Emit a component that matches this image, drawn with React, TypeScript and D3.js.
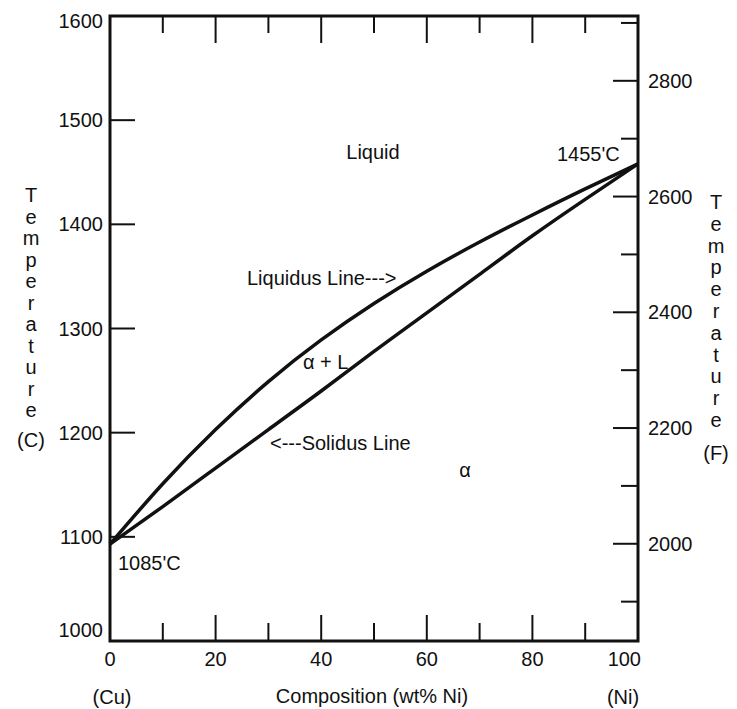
import * as d3 from "d3";

// wt% Ni along the bottom
const composition = [0, 10, 20, 30, 40, 50, 60, 70, 80, 90, 100];
// temperatures (C)
const liquidusC = [1093, 1151, 1203, 1249, 1289, 1324, 1355, 1383, 1409, 1434, 1458];
const solidusC = [1093, 1129, 1166, 1203, 1240, 1278, 1315, 1352, 1389, 1424, 1458];

const xTicks = [0, 10, 20, 30, 40, 50, 60, 70, 80, 90, 100];
const xLabels = [0, 20, 40, 60, 80, 100];
const cTicks = [1000, 1100, 1200, 1300, 1400, 1500, 1600];
const fTicks = [1900, 2000, 2100, 2200, 2300, 2400, 2500, 2600, 2700, 2800, 2900];
const fLabels = [2000, 2200, 2400, 2600, 2800];

const width = 737;
const height = 709;
const left = 110, right = 638, top = 16, bottom = 641;
const font = "'Liberation Sans', Arial, sans-serif";
const ink = "#111";

const toF = (c: number) => c * 9 / 5 + 32;

function VerticalWord({x, y0, step, word, unit, unitY}: {
    x: number, y0: number, step: number, word: string, unit: string, unitY: number
}) {
    return <g fontFamily={font} fontSize={20} fill={ink} textAnchor="middle">
        {word.split("").map((ch, i) =>
            <text key={i} x={x} y={y0 + i * step}>{ch}</text>)}
        <text x={x} y={unitY}>{unit}</text>
    </g>
}

export default function App() {
    const x = d3.scaleLinear([0, 100], [left, right]);
    const y = d3.scaleLinear([1000, 1600], [bottom, top]);
    const yF = d3.scaleLinear([toF(1000), toF(1600)], [bottom, top]);

    const line = d3.line<number>()
        .x((_, i) => x(composition[i]))
        .y(d => y(d))
        .curve(d3.curveNatural);

    return <svg width={width} height={height} style={{position: "absolute", left: 0, top: 0, background: "#fff"}}>
        {/* x ticks, bottom pointing up and top pointing down */}
        {xTicks.map(t => {
            const len = t % 20 === 0 ? 26 : 18;
            if (t === 0 || t === 100) return null;
            return <g key={t} stroke={ink} strokeWidth={2}>
                <line x1={x(t)} x2={x(t)} y1={bottom} y2={bottom - len}/>
                <line x1={x(t)} x2={x(t)} y1={top} y2={top + (t % 20 === 0 ? 27 : 17)}/>
            </g>
        })}
        {/* left C ticks */}
        {cTicks.map(t => t === 1000 || t === 1600 ? null :
            <line key={t} x1={left} x2={left + 25} y1={y(t)} y2={y(t)} stroke={ink} strokeWidth={2}/>)}
        {/* right F ticks */}
        {fTicks.map(t => {
            const len = fLabels.includes(t) ? 25 : 17;
            return <line key={t} x1={right} x2={right - len} y1={yF(t)} y2={yF(t)} stroke={ink} strokeWidth={2}/>
        })}

        <rect x={left} y={top} width={right - left} height={bottom - top} fill="none" stroke={ink} strokeWidth={3}/>

        <path d={line(liquidusC) ?? ""} fill="none" stroke={ink} strokeWidth={3.5}/>
        <path d={line(solidusC) ?? ""} fill="none" stroke={ink} strokeWidth={3.5}/>

        <g fontFamily={font} fontSize={20} fill={ink}>
            {cTicks.map(t =>
                <text key={t} x={left - 7} y={y(t) + (t === 1000 ? -11 : t === 1600 ? 5 : 0)}
                      textAnchor="end" dominantBaseline="central">{t}</text>)}
            {fLabels.map(t =>
                <text key={t} x={right + 10} y={yF(t)} dominantBaseline="central">{t}</text>)}
            {xLabels.map(t =>
                <text key={t} x={t === 100 ? x(t) + 3 : x(t)} y={659}
                      textAnchor={t === 100 ? "end" : "middle"} dominantBaseline="central">{t}</text>)}

            <text x={112} y={697} textAnchor="middle" dominantBaseline="central">(Cu)</text>
            <text x={372} y={696} textAnchor="middle" dominantBaseline="central">Composition (wt% Ni)</text>
            <text x={623} y={697} textAnchor="middle" dominantBaseline="central">(Ni)</text>

            <text x={373} y={152} textAnchor="middle" dominantBaseline="central">Liquid</text>
            <text x={557} y={154} dominantBaseline="central">1455'C</text>
            <text x={247} y={278} dominantBaseline="central">Liquidus Line---&gt;</text>
            <text x={303} y={362} dominantBaseline="central">α + L</text>
            <text x={270} y={443} dominantBaseline="central">&lt;---Solidus Line</text>
            <text x={465} y={470} textAnchor="middle" dominantBaseline="central">α</text>
            <text x={118} y={563} dominantBaseline="central">1085'C</text>
        </g>

        <VerticalWord x={31} y0={202} step={21.5} word="Temperature" unit="(C)" unitY={447}/>
        <VerticalWord x={716} y0={209} step={21.8} word="Temperature" unit="(F)" unitY={460}/>
    </svg>
}
